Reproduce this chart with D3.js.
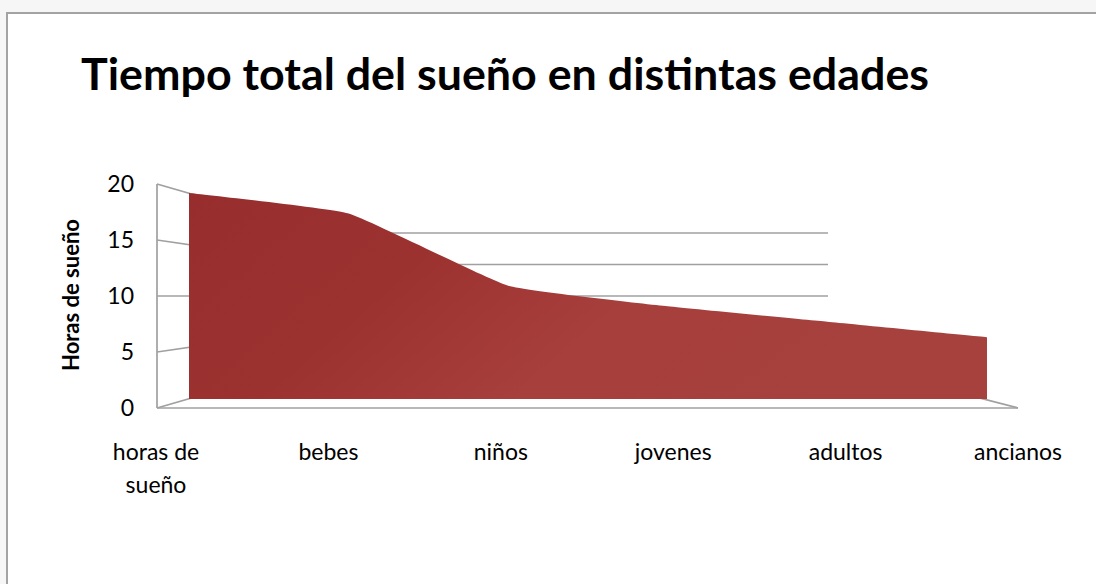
<!DOCTYPE html>
<html>
<head>
<meta charset="utf-8">
<script src="https://cdn.jsdelivr.net/npm/d3@7"></script>
<style>
  html, body { margin: 0; padding: 0; background: #f6f6f6; }
  svg { display: block; }
  text { font-family: Lato, "Open Sans", sans-serif; fill: #000; }
</style>
</head>
<body>
<svg id="chart" width="1096" height="584"></svg>
<script>
// Sleep hours by age group
const categories = ["horas de sueño", "bebes", "niños", "jovenes", "adultos", "ancianos"];
const categoryLines = [["horas de", "sueño"], ["bebes"], ["niños"], ["jovenes"], ["adultos"], ["ancianos"]];
const hours = [20, 18, 11, 9, 7.5, 6];
const yTicks = [0, 5, 10, 15, 20];
const title = "Tiempo total del sueño en distintas edades";
const yTitle = "Horas de sueño";

const svg = d3.select("#chart");

// chart frame
svg.append("rect").attr("x", 0).attr("y", 0).attr("width", 1096).attr("height", 584).attr("fill", "#f6f6f6");
svg.append("rect").attr("x", 7).attr("y", 13).attr("width", 1100).attr("height", 600)
  .attr("fill", "#ffffff").attr("stroke", "#a3a3a3").attr("stroke-width", 2);

// three planes of the 3-D box: front edge, series plane, back wall
const yFront = d3.scaleLinear().domain([0, 20]).range([408, 184]);
const ySeries = d3.scaleLinear().domain([0, 20]).range([399, 193]);
const yBack = d3.scaleLinear().domain([0, 20]).range([359, 233]);
const xFront = [157, 1018], xSeries = [189, 987], xBack = [326, 828];
const xPos = d3.scalePoint().domain(categories).range(xSeries);
const xLabel = d3.scalePoint().domain(categories).range([156, 1018]);

const grid = svg.append("g").attr("fill", "none").attr("stroke", "#a0a0a0").attr("stroke-width", 1.7);

// back wall gridlines
grid.selectAll("line.back").data(yTicks).join("line").attr("class", "back")
  .attr("x1", xBack[0]).attr("x2", xBack[1])
  .attr("y1", d => yBack(d)).attr("y2", d => yBack(d));

// side wall tick lines
grid.selectAll("line.side").data(yTicks).join("line").attr("class", "side")
  .attr("x1", xFront[0]).attr("x2", xBack[0])
  .attr("y1", d => yFront(d)).attr("y2", d => yBack(d));

// side wall front edge
grid.append("line").attr("x1", xFront[0]).attr("x2", xFront[0])
  .attr("y1", yFront(20)).attr("y2", yFront(0));

// floor edges
grid.append("line").attr("x1", xFront[0]).attr("x2", xFront[1])
  .attr("y1", yFront(0)).attr("y2", yFront(0));
grid.append("line").attr("x1", xFront[1]).attr("x2", xBack[1])
  .attr("y1", yFront(0)).attr("y2", yBack(0));

// area gradient
const defs = svg.append("defs");
const grad = defs.append("linearGradient").attr("id", "areaFill")
  .attr("x1", "0%").attr("x2", "100%").attr("y1", "0%").attr("y2", "30%");
grad.append("stop").attr("offset", "0%").attr("stop-color", "#972d2d");
grad.append("stop").attr("offset", "35%").attr("stop-color", "#9c3230");
grad.append("stop").attr("offset", "65%").attr("stop-color", "#a73f3c");
grad.append("stop").attr("offset", "100%").attr("stop-color", "#a6413d");

const area = d3.area()
  .x((d, i) => xPos(categories[i]))
  .y0(ySeries(0))
  .y1(d => ySeries(d))
  .curve(d3.curveCardinal.tension(0.65));

svg.append("path").datum(hours).attr("d", area).attr("fill", "url(#areaFill)");

// y tick labels
svg.selectAll("text.ytick").data(yTicks).join("text").attr("class", "ytick")
  .attr("x", 134).attr("y", d => yFront(d)).attr("dy", "0.36em")
  .attr("text-anchor", "end").attr("font-size", 23).text(d => d);

// y axis title
svg.append("text").attr("transform", "translate(79,295) rotate(-90)")
  .attr("text-anchor", "middle").attr("font-size", 22).attr("font-weight", "bold").text(yTitle);

// category labels
const xl = svg.selectAll("text.xtick").data(categories).join("text").attr("class", "xtick")
  .attr("x", d => xLabel(d)).attr("y", 460)
  .attr("text-anchor", "middle").attr("font-size", 23);
xl.each(function(d, i) {
  const t = d3.select(this);
  categoryLines[i].forEach((line, j) => {
    t.append("tspan").attr("x", xLabel(d)).attr("dy", j === 0 ? 0 : 33).text(line);
  });
});

// chart title
svg.append("text").attr("x", 81).attr("y", 90)
  .attr("font-size", 44).attr("font-weight", "bold")
  .attr("textLength", 848).attr("lengthAdjust", "spacingAndGlyphs").text(title);
</script>
</body>
</html>
